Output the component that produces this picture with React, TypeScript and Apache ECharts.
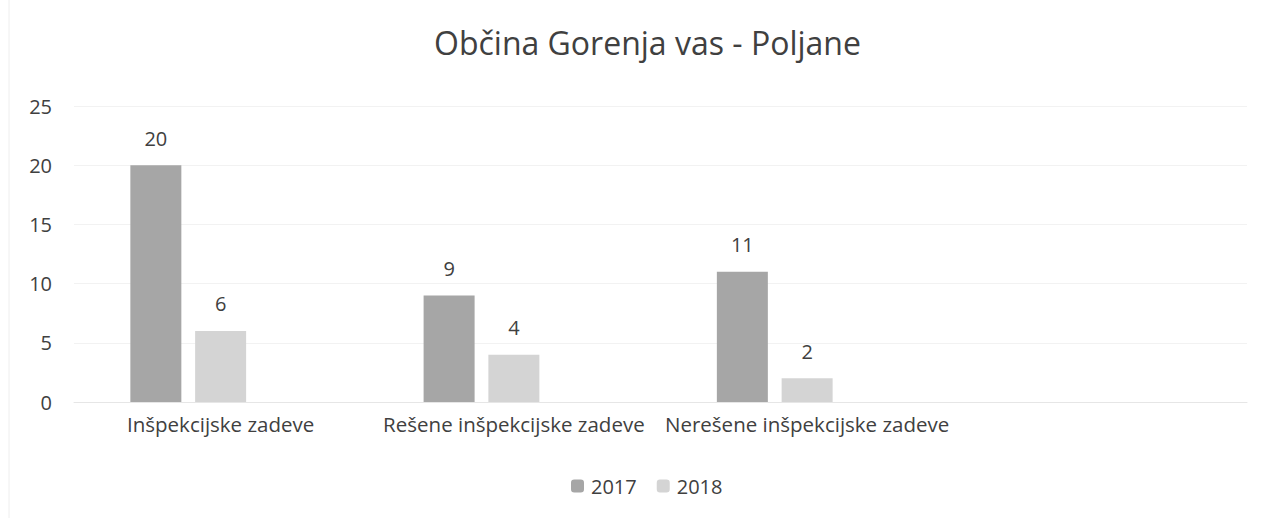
import React, { useEffect, useRef } from "react";
import * as echarts from "echarts";

const categories = [
  "Inšpekcijske zadeve",
  "Rešene inšpekcijske zadeve",
  "Nerešene inšpekcijske zadeve",
  "",
];
const values2017 = [20, 9, 11, null];
const values2018 = [6, 4, 2, null];
const values2019 = [null, null, null, null];
const yTicks = [0, 5, 10, 15, 20, 25];

const FONT = "'Open Sans', 'Noto Sans', sans-serif";
const TEXT = "#404040";

export default function App() {
  const ref = useRef<HTMLDivElement>(null);
  useEffect(() => {
    document.body.style.margin = "0";
    if (!ref.current) return;
    const chart = echarts.init(ref.current, undefined, { renderer: "svg" });
    const label = {
      show: true,
      position: "top",
      distance: 17,
      color: TEXT,
      fontSize: 20,
      fontFamily: FONT,
    };
    chart.setOption({
      animation: false,
      backgroundColor: "#ffffff",
      title: {
        text: "Občina Gorenja vas - Poljane",
        left: 429,
        top: 21,
        textStyle: {
          color: TEXT,
          fontSize: 32,
          fontWeight: "normal",
          fontFamily: FONT,
        },
      },
      legend: {
        data: ["2017", "2018"],
        top: 471,
        left: 566,
        itemWidth: 13,
        itemHeight: 13,
        itemGap: 20,
        textStyle: { color: TEXT, fontSize: 20, fontFamily: FONT, padding: [0, 0, 0, 2] },
      },
      grid: { left: 74, right: 25, top: 106, bottom: 116, containLabel: false },
      xAxis: {
        type: "category",
        data: categories,
        axisLine: { lineStyle: { color: "#e6e6e6" } },
        axisTick: { show: false },
        axisLabel: {
          color: TEXT,
          fontSize: 20.5,
          fontFamily: FONT,
          margin: 11,
          interval: 0,
        },
      },
      yAxis: {
        type: "value",
        min: yTicks[0],
        max: yTicks[yTicks.length - 1],
        interval: 5,
        axisLine: { show: false },
        axisTick: { show: false },
        splitLine: { lineStyle: { color: "#f2f2f2" } },
        axisLabel: {
          color: TEXT,
          fontSize: 20,
          fontFamily: FONT,
          margin: 22,
          align: "right",
        },
      },
      graphic: [
        {
          type: "line",
          shape: { x1: 9, y1: 0, x2: 9, y2: 518 },
          style: { stroke: "#eeeeee", lineWidth: 1 },
        },
      ],
      series: [
        {
          name: "2017",
          type: "bar",
          data: values2017,
          barWidth: 51,
          barGap: "27%",
          itemStyle: { color: "#a6a6a6" },
          label,
        },
        {
          name: "2018",
          type: "bar",
          data: values2018,
          barWidth: 51,
          barGap: "27%",
          itemStyle: { color: "#d4d4d4" },
          label,
        },
        {
          name: "2019",
          type: "bar",
          data: values2019,
          barWidth: 51,
          barGap: "27%",
          itemStyle: { color: "#e8e8e8" },
        },
      ],
    });
    return () => chart.dispose();
  }, []);
  return <div ref={ref} style={{ width: 1272, height: 518 }} />;
}
